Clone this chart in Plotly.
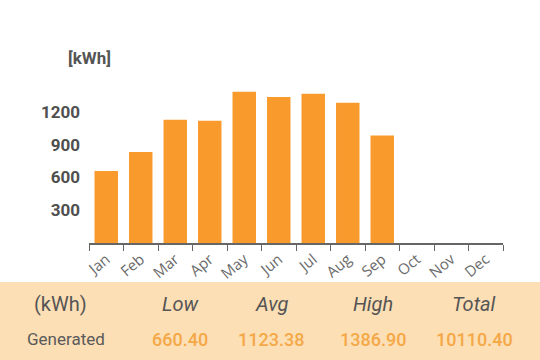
import plotly.graph_objects as go

months = ["Jan", "Feb", "Mar", "Apr", "May", "Jun", "Jul", "Aug", "Sep", "Oct", "Nov", "Dec"]
generated = [660.4, 834.0, 1130.0, 1121.0, 1386.9, 1339.1, 1368.0, 1286.0, 985.0, None, None, None]
y_ticks = [300, 600, 900, 1200]
table_headers = ["(kWh)", "Low", "Avg", "High", "Total"]
row_label = "Generated"
row_values = ["660.40", "1123.38", "1386.90", "10110.40"]

W, H = 540, 360
L, R, T, B = 89, 37, 80, 117
pw, ph = W - L - R, H - T - B

def px(x):
    return (x - L) / pw

def py(y):
    return (H - B - y) / ph

fig = go.Figure(go.Bar(x=months, y=generated, marker_color="#F99A2C",
                       marker_line_width=0))

fig.update_layout(
    width=W, height=H, margin=dict(l=L, r=R, t=T, b=B),
    paper_bgcolor="white", plot_bgcolor="white",
    bargap=0.32, showlegend=False,
    font=dict(family="Roboto", color="#555555"),
    xaxis=dict(type="category", categoryorder="array", categoryarray=months,
               range=[-0.5, 11.5], showline=True, linecolor="#666666", linewidth=1.5,
               ticks="outside", tickson="boundaries", ticklen=6, tickcolor="#666666",
               tickangle=-40, tickfont=dict(family="Open Sans", size=15, color="#6a6a6a"),
               showgrid=False),
    yaxis=dict(range=[0, 1494], tickvals=y_ticks, showgrid=False, zeroline=False,
               showline=False, ticks="", ticklabelstandoff=8,
               tickfont=dict(size=17, color="#4f4f4f", weight="bold")),
)

fig.add_shape(type="rect", xref="paper", yref="paper", x0=px(0), x1=px(W),
              y0=py(282), y1=py(H), fillcolor="#FDDFB5", line_width=0, layer="below")

def note(x, y, text, **font):
    fig.add_annotation(xref="paper", yref="paper", x=px(x), y=py(y), text=text,
                       xanchor="center", yanchor="middle", showarrow=False,
                       font=font)

note(89, 58, "[kWh]", size=17, color="#555555", weight="bold")

col_x = [60, 180, 271, 373, 474]
for i, (cx, h) in enumerate(zip(col_x, table_headers)):
    note(cx, 304, h, size=20, color="#555555", style="normal" if i == 0 else "italic")

note(66, 339, row_label, size=17, color="#5a5a5a")
for cx, v in zip(col_x[1:], row_values):
    note(cx, 339, v, size=18, color="#F4A847", weight=500)

fig.write_html("out.html", config={"displayModeBar": False},
               post_script="document.body.style.margin='0px';")
